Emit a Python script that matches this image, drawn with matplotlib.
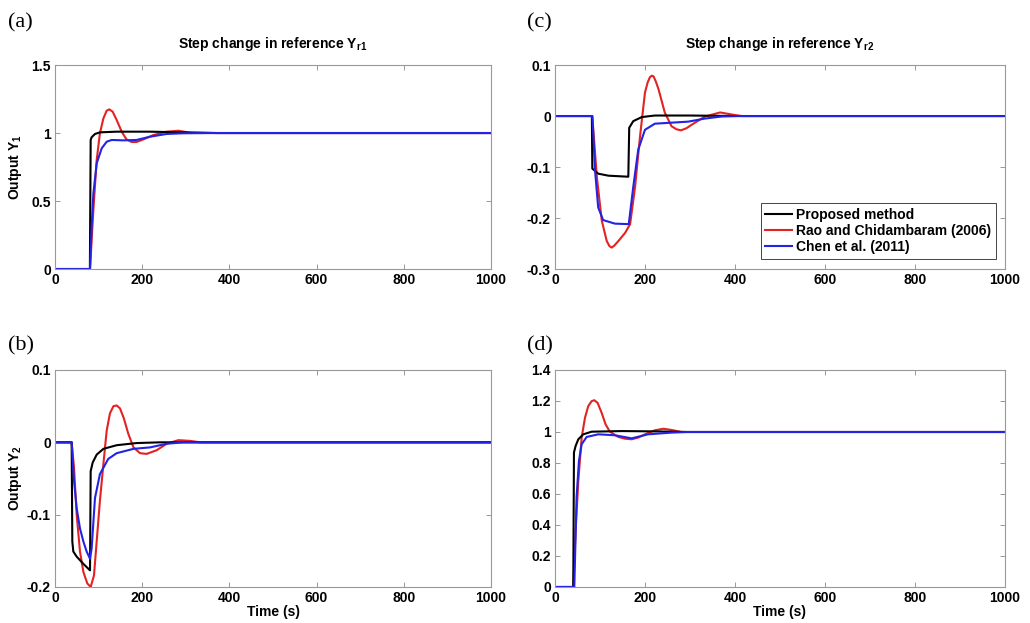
import matplotlib
matplotlib.use('Agg')
import matplotlib.pyplot as plt

plt.rcParams['font.family'] = ['Liberation Sans', 'DejaVu Sans']
plt.rcParams['axes.unicode_minus'] = False
plt.rcParams['mathtext.fontset'] = 'custom'
plt.rcParams['mathtext.rm'] = 'Liberation Sans:bold'
plt.rcParams['mathtext.bf'] = 'Liberation Sans:bold'
plt.rcParams['mathtext.default'] = 'rm'

# (a) step in Yr1, output Y1
a_black_t = [0, 80, 81.8, 84, 91.7, 103, 141, 218, 294, 371, 1000]
a_black_y = [0, 0, 0.949, 0.969, 0.993, 1.005, 1.01, 1.01, 1.005, 1.0, 1.0]
a_red_t = [0, 80.3, 88, 95.6, 103, 111, 118.5, 124.6, 132.3, 141.4, 153, 164, 176, 187,
           202.6, 225.5, 256, 283, 310, 371, 1000]
a_red_y = [0, 0, 0.434, 0.801, 0.998, 1.108, 1.164, 1.174, 1.157, 1.096, 1.01, 0.953, 0.934,
           0.934, 0.953, 0.985, 1.01, 1.017, 1.002, 1.0, 1.0]
a_blue_t = [0, 80.3, 84, 88, 95.6, 107, 118.5, 130, 157, 187, 218, 256, 294, 371, 1000]
a_blue_y = [0, 0, 0.311, 0.556, 0.777, 0.887, 0.936, 0.949, 0.946, 0.949, 0.973, 0.993,
            0.998, 1.0, 1.0]

# (b) step in Yr1, output Y2
b_black_t = [0, 38.2, 39.7, 42, 49.7, 65, 80.3, 81.8, 86.4, 95.6, 111, 141.4, 187, 241, 1000]
b_black_y = [0, 0, -0.137, -0.151, -0.158, -0.168, -0.177, -0.04, -0.028, -0.017, -0.009,
             -0.004, -0.001, 0, 0]
b_red_t = [0, 38.2, 43.6, 49.7, 57.3, 65, 74, 81.8, 89.4, 95.6, 103, 111, 118.5, 126, 134,
           141.4, 149, 158, 168, 180, 195, 210, 233, 256, 283, 310, 333, 1000]
b_red_y = [0, 0, -0.035, -0.1, -0.151, -0.179, -0.195, -0.2, -0.184, -0.137, -0.081, -0.03,
           0.016, 0.04, 0.05, 0.051, 0.047, 0.033, 0.012, -0.007, -0.015, -0.016, -0.011,
           -0.002, 0.003, 0.002, 0, 0]
b_blue_t = [0, 38.2, 43.6, 49.7, 57.3, 65, 72.6, 80.3, 84, 91.7, 103, 122, 141.4, 180, 218,
            256, 294, 1000]
b_blue_y = [0, 0, -0.053, -0.091, -0.119, -0.137, -0.151, -0.161, -0.147, -0.077, -0.044,
            -0.023, -0.015, -0.009, -0.007, -0.002, 0, 0]

# (c) step in Yr2, output Y1
c_black_t = [0, 82, 83, 96, 119, 163, 165, 174, 193, 222, 300, 400, 1000]
c_black_y = [0, 0, -0.103, -0.113, -0.117, -0.119, -0.023, -0.010, -0.002, 0.001, 0.001, 0, 0]
c_red_t = [0, 83, 93, 104, 115, 121, 126, 132, 141, 156, 167, 178, 189, 200, 206, 211, 215,
           219, 224, 230, 244, 259, 270, 280, 292, 304, 333, 367, 393, 415, 1000]
c_red_y = [0, 0, -0.119, -0.205, -0.245, -0.255, -0.258, -0.254, -0.245, -0.229, -0.212,
           -0.139, -0.04, 0.046, 0.066, 0.076, 0.079, 0.078, 0.068, 0.053, 0.007, -0.02,
           -0.026, -0.028, -0.024, -0.017, -0.001, 0.007, 0.003, 0, 0]
c_blue_t = [0, 83, 85, 89, 96, 107, 133, 164, 174, 185, 200, 222, 296, 333, 370, 407, 1000]
c_blue_y = [0, 0, -0.033, -0.106, -0.179, -0.204, -0.211, -0.212, -0.139, -0.066, -0.027,
            -0.015, -0.011, -0.005, -0.001, 0, 0]

# (d) step in Yr2, output Y2
d_black_t = [0, 40.7, 42.2, 45.9, 51.9, 63, 81.5, 148, 222, 296, 1000]
d_black_y = [0, 0, 0.868, 0.91, 0.953, 0.985, 1.002, 1.006, 1.004, 1.0, 1.0]
d_red_t = [0, 40.7, 45.9, 51.9, 59.3, 66.7, 74, 81.5, 87.4, 94.8, 103.7, 112.6, 122, 140.7,
           155.6, 170.4, 185, 200, 222, 241, 259, 281, 1000]
d_red_y = [0, 0, 0.364, 0.685, 0.964, 1.092, 1.167, 1.199, 1.205, 1.188, 1.124, 1.049, 1.002,
           0.968, 0.957, 0.953, 0.964, 0.985, 1.011, 1.021, 1.013, 1.0, 1.0]
d_blue_t = [0, 43, 48, 53.3, 59.3, 70.4, 96.3, 133, 170.4, 207, 259, 296, 1000]
d_blue_y = [0, 0, 0.578, 0.814, 0.921, 0.968, 0.985, 0.979, 0.959, 0.985, 0.996, 1.0, 1.0]

names = ['Proposed method', 'Rao and Chidambaram (2006)', 'Chen et al. (2011)']
colors = ['black', '#e32222', '#2323e6']

fig = plt.figure(figsize=(10.3, 6.23), dpi=100)

ax_a = fig.add_axes([0.0534, 0.5682, 0.4233, 0.3274])
ax_c = fig.add_axes([0.5388, 0.5682, 0.4369, 0.3274])
ax_b = fig.add_axes([0.0534, 0.0578, 0.4233, 0.3483])
ax_d = fig.add_axes([0.5388, 0.0578, 0.4369, 0.3483])

panels = [
    (ax_a, [(a_black_t, a_black_y), (a_red_t, a_red_y), (a_blue_t, a_blue_y)],
     (0, 1.5), [0, 0.5, 1, 1.5], ['0', '0.5', '1', '1.5']),
    (ax_b, [(b_black_t, b_black_y), (b_red_t, b_red_y), (b_blue_t, b_blue_y)],
     (-0.2, 0.1), [-0.2, -0.1, 0, 0.1], ['-0.2', '-0.1', '0', '0.1']),
    (ax_c, [(c_black_t, c_black_y), (c_red_t, c_red_y), (c_blue_t, c_blue_y)],
     (-0.3, 0.1), [-0.3, -0.2, -0.1, 0, 0.1], ['-0.3', '-0.2', '-0.1', '0', '0.1']),
    (ax_d, [(d_black_t, d_black_y), (d_red_t, d_red_y), (d_blue_t, d_blue_y)],
     (0, 1.4), [0, 0.2, 0.4, 0.6, 0.8, 1, 1.2, 1.4],
     ['0', '0.2', '0.4', '0.6', '0.8', '1', '1.2', '1.4']),
]

for ax, series, ylim, yt, ytl in panels:
    # red first so black and blue sit on top
    for k in [1, 0, 2]:
        t, y = series[k]
        ax.plot(t, y, color=colors[k], lw=1.5, label=names[k], solid_joinstyle='round')
    ax.set_xlim(0, 1000)
    ax.set_ylim(*ylim)
    ax.set_xticks([0, 200, 400, 600, 800, 1000])
    ax.set_xticklabels(['0', '200', '400', '600', '800', '1000'], fontweight='bold', fontsize=10)
    ax.set_yticks(yt)
    ax.set_yticklabels(ytl, fontweight='bold', fontsize=10)
    ax.tick_params(direction='in', length=3.5, width=0.6, color='#888888',
                   top=True, right=True, pad=3)
    for s in ax.spines.values():
        s.set_color('#999999')
        s.set_linewidth(0.8)

ax_a.set_title('Step change in reference Y$_{r1}$', fontsize=10, fontweight='bold', pad=12)
ax_c.set_title('Step change in reference Y$_{r2}$', fontsize=10, fontweight='bold', pad=12)
ax_a.set_ylabel('Output Y$_1$', fontsize=10, fontweight='bold')
ax_b.set_ylabel('Output Y$_2$', fontsize=10, fontweight='bold')
ax_a.yaxis.set_label_coords(-0.07, 0.5)
ax_b.yaxis.set_label_coords(-0.07, 0.5)
ax_b.set_xlabel('Time (s)', fontsize=10, fontweight='bold', labelpad=0)
ax_d.set_xlabel('Time (s)', fontsize=10, fontweight='bold', labelpad=0)

h, l = ax_c.get_legend_handles_labels()
order = [1, 0, 2]
leg = ax_c.legend([h[order.index(i)] for i in range(3)], names, loc='lower right',
                  bbox_to_anchor=(0.98, 0.05), borderaxespad=0, fancybox=False,
                  edgecolor='#444444', framealpha=1, prop={'weight': 'bold', 'size': 10},
                  handlelength=1.9, handletextpad=0.3, labelspacing=0.15, borderpad=0.35)
leg.get_frame().set_linewidth(0.7)

for lab, x, y in [('(a)', 0.008, 0.963), ('(b)', 0.008, 0.445), ('(c)', 0.512, 0.963),
                  ('(d)', 0.512, 0.445)]:
    fig.text(x, y, lab, fontsize=16, family='Liberation Serif', va='center', ha='left')

fig.savefig('out.png', dpi=100)
